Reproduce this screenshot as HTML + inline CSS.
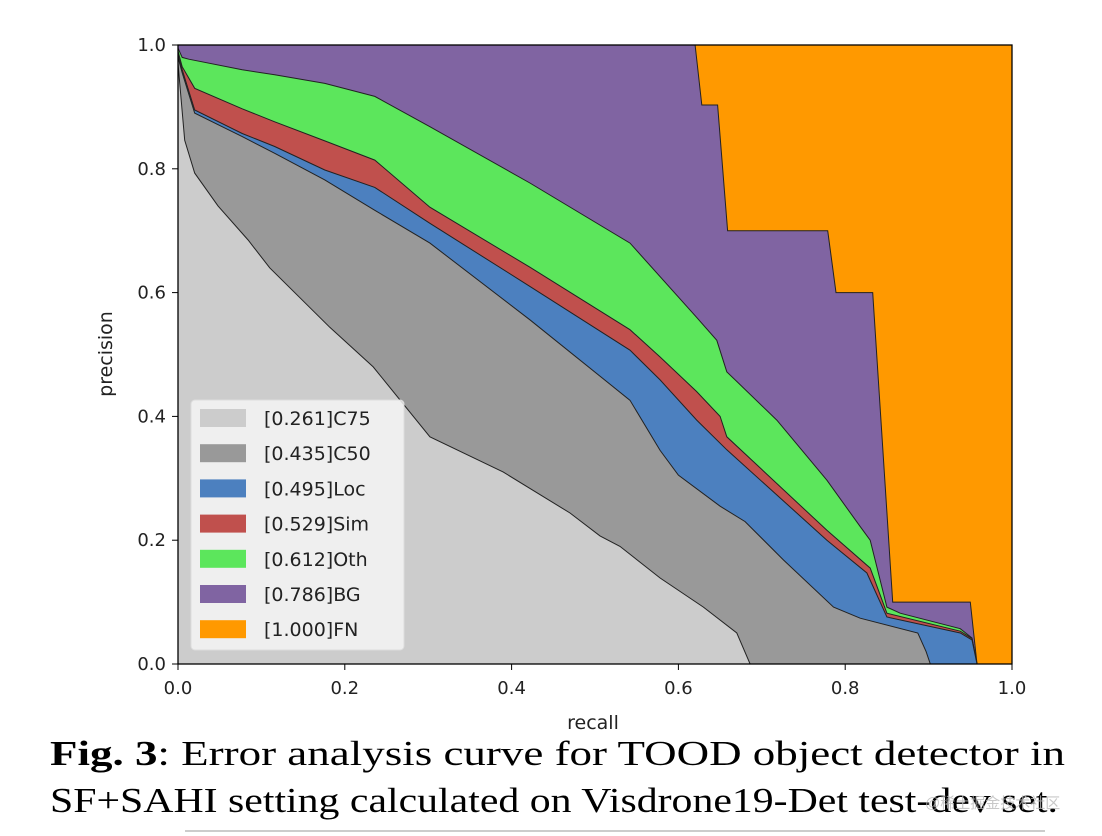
<!DOCTYPE html>
<html><head><meta charset="utf-8"><style>
html,body{margin:0;padding:0;background:#fff;}
svg{display:block;}
</style></head><body>
<svg id="chart" width="1102" height="836" viewBox="0 0 1102 836" xmlns="http://www.w3.org/2000/svg">
<g id="areas"></g>
<rect x="178" y="45" width="834" height="619" fill="none" stroke="#000" stroke-width="1.3"/>
<g id="ticks"></g>
<g id="legend"></g>
<text x="112" y="354" font-family="DejaVu Sans, sans-serif" font-size="19" text-anchor="middle" transform="rotate(-90 112 354)" fill="#222">precision</text>
<text x="593" y="729" font-family="DejaVu Sans, sans-serif" font-size="19" text-anchor="middle" fill="#222">recall</text>
<text x="50" y="765" font-family="Liberation Serif, serif" font-size="35" textLength="1015" lengthAdjust="spacingAndGlyphs" fill="#000"><tspan font-weight="bold">Fig. 3</tspan>:  Error analysis curve for TOOD object detector in</text>
<text x="50" y="812" font-family="Liberation Serif, serif" font-size="35" textLength="1008" lengthAdjust="spacingAndGlyphs" fill="#000">SF+SAHI setting calculated on Visdrone19-Det test-dev set.</text>
<text x="925" y="808" font-family="Liberation Sans, Noto Sans CJK SC, sans-serif" font-size="15" fill="#bbb" opacity="0.8">@稀土掘金技术社区</text>
<line x1="185" y1="831" x2="1045" y2="831" stroke="#bbb" stroke-width="1.5"/>
</svg>
<script>
const seriesNames = ["C75","C50","Loc","Sim","Oth","BG","FN"];
const seriesScores = ["0.261","0.435","0.495","0.529","0.612","0.786","1.000"];
const seriesColors = ["#cccccc","#999999","#4c80bf","#c0504d","#5ce65c","#8064a2","#ff9900"];
const xTicks = [0.0,0.2,0.4,0.6,0.8,1.0];
const yTicks = [0.0,0.2,0.4,0.6,0.8,1.0];

const c75R = [0,0.008,0.02,0.048,0.084,0.11,0.182,0.234,0.302,0.39,0.47,0.506,0.53,0.578,0.63,0.67,0.686];
const c75P = [0.97,0.846,0.793,0.74,0.685,0.64,0.544,0.48,0.367,0.31,0.244,0.207,0.19,0.139,0.092,0.05,0];
const c50R = [0,0.005,0.02,0.077,0.116,0.176,0.236,0.302,0.422,0.542,0.578,0.6,0.65,0.68,0.726,0.786,0.818,0.887,0.897,0.902];
const c50P = [0.98,0.955,0.89,0.852,0.825,0.782,0.733,0.68,0.556,0.426,0.345,0.305,0.255,0.23,0.168,0.092,0.074,0.05,0.02,0];
const locR = [0,0.005,0.02,0.077,0.116,0.176,0.236,0.302,0.422,0.542,0.578,0.622,0.658,0.778,0.826,0.85,0.938,0.952,0.958];
const locP = [0.985,0.96,0.895,0.857,0.836,0.798,0.77,0.712,0.61,0.507,0.459,0.394,0.346,0.20,0.147,0.076,0.05,0.039,0];
const simR = [0,0.005,0.02,0.077,0.116,0.176,0.236,0.302,0.422,0.542,0.578,0.622,0.65,0.658,0.778,0.83,0.85,0.938,0.952,0.958];
const simP = [0.99,0.965,0.93,0.897,0.876,0.845,0.814,0.738,0.641,0.54,0.496,0.44,0.40,0.367,0.216,0.155,0.082,0.053,0.041,0];
const othR = [0,0.005,0.013,0.077,0.116,0.176,0.236,0.302,0.422,0.542,0.622,0.646,0.658,0.718,0.778,0.818,0.83,0.85,0.866,0.938,0.952,0.958];
const othP = [0.995,0.98,0.977,0.96,0.952,0.938,0.917,0.868,0.777,0.68,0.56,0.523,0.472,0.394,0.297,0.222,0.20,0.092,0.082,0.057,0.042,0];
const bgR = [0,0.62,0.628,0.647,0.659,0.779,0.789,0.833,0.857,0.95,0.958];
const bgP = [1,1,0.903,0.903,0.70,0.70,0.60,0.60,0.10,0.10,0];
const fnR = [0,1];
const fnP = [1,1];

const X0=178,X1=1012,Y0=664,Y1=45;
function sx(v){return X0+(X1-X0)*v;}
function sy(v){return Y0-(Y0-Y1)*v;}
const NS="http://www.w3.org/2000/svg";
const areas=document.getElementById('areas');
const allR=[c75R,c50R,locR,simR,othR,bgR,fnR];
const allP=[c75P,c50P,locP,simP,othP,bgP,fnP];
for(let i=6;i>=0;i--){
  const R=allR[i],P=allP[i];
  let d="M"+sx(R[0])+","+sy(0);
  for(let k=0;k<R.length;k++) d+=" L"+sx(R[k]).toFixed(1)+","+sy(P[k]).toFixed(1);
  d+=" L"+sx(R[R.length-1])+","+sy(0)+" Z";
  const p=document.createElementNS(NS,'path');
  p.setAttribute('d',d);
  p.setAttribute('fill',seriesColors[i]);
  p.setAttribute('stroke','#222');
  p.setAttribute('stroke-width','1');
  
  
  areas.appendChild(p);
}
const ticks=document.getElementById('ticks');
xTicks.forEach(v=>{
  const l=document.createElementNS(NS,'line');
  l.setAttribute('x1',sx(v));l.setAttribute('x2',sx(v));l.setAttribute('y1',Y0);l.setAttribute('y2',Y0+6);
  l.setAttribute('stroke','#000');
  
  
  ticks.appendChild(l);
  const t=document.createElementNS(NS,'text');
  t.setAttribute('x',sx(v));t.setAttribute('y',Y0+30);t.setAttribute('text-anchor','middle');
  t.setAttribute('font-family','DejaVu Sans, sans-serif');t.setAttribute('font-size','18');t.setAttribute('fill','#222');
  t.textContent=v.toFixed(1);
  
  
  ticks.appendChild(t);
});
yTicks.forEach(v=>{
  const l=document.createElementNS(NS,'line');
  l.setAttribute('x1',X0-6);l.setAttribute('x2',X0);l.setAttribute('y1',sy(v));l.setAttribute('y2',sy(v));
  l.setAttribute('stroke','#000');
  
  
  ticks.appendChild(l);
  const t=document.createElementNS(NS,'text');
  t.setAttribute('x',X0-12);t.setAttribute('y',sy(v)+6);t.setAttribute('text-anchor','end');
  t.setAttribute('font-family','DejaVu Sans, sans-serif');t.setAttribute('font-size','18');t.setAttribute('fill','#222');
  t.textContent=v.toFixed(1);
  
  
  ticks.appendChild(t);
});
const lg=document.getElementById('legend');
const box=document.createElementNS(NS,'rect');
box.setAttribute('x',191);box.setAttribute('y',400);box.setAttribute('width',213);box.setAttribute('height',250);
box.setAttribute('rx',4);box.setAttribute('fill','#f4f4f4');box.setAttribute('fill-opacity','0.85');box.setAttribute('stroke','#ddd');


lg.appendChild(box);
seriesNames.forEach((n,i)=>{
  const y=418+i*35.2;
  const r=document.createElementNS(NS,'rect');
  r.setAttribute('x',200);r.setAttribute('y',y-9);r.setAttribute('width',46);r.setAttribute('height',18);
  r.setAttribute('fill',seriesColors[i]);
  
  
  lg.appendChild(r);
  const t=document.createElementNS(NS,'text');
  t.setAttribute('x',264);t.setAttribute('y',y+7);
  t.setAttribute('font-family','DejaVu Sans, sans-serif');t.setAttribute('font-size','19');t.setAttribute('fill','#222');
  t.textContent='['+seriesScores[i]+']'+n;
  
  
  lg.appendChild(t);
});
</script>
</body></html>
